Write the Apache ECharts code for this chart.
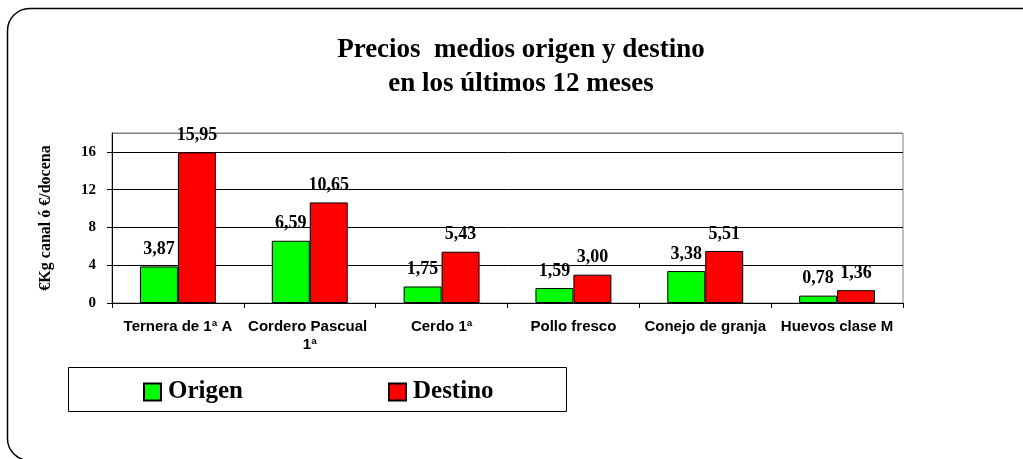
<!DOCTYPE html>
<html>
<head>
<meta charset="utf-8">
<script src="https://cdn.jsdelivr.net/npm/echarts@6/dist/echarts.min.js"></script>
<style>
  html, body { margin: 0; padding: 0; background: #fff; }
  #chart { width: 1023px; height: 459px; }
</style>
</head>
<body>
<div id="chart"></div>
<script>
// Product categories and average prices (€/kg carcass or €/dozen)
const categories = ['Ternera de 1ª A', 'Cordero Pascual 1ª', 'Cerdo 1ª', 'Pollo fresco', 'Conejo de granja', 'Huevos clase M'];
const origenValues = [3.87, 6.59, 1.75, 1.59, 3.38, 0.78];
const destinoValues = [15.95, 10.65, 5.43, 3.00, 5.51, 1.36];
const seriesNames = ['Origen', 'Destino'];
const titleLines = ['Precios  medios origen y destino', 'en los últimos 12 meses'];
const yAxisName = '€Kg canal ó €/docena';

const serif = '"Liberation Serif", "Times New Roman", serif';
const sans = '"Liberation Sans", Arial, sans-serif';

const fmt = v => v.toFixed(2).replace('.', ',');

const chart = echarts.init(document.getElementById('chart'), null, { renderer: 'canvas' });

const barLabel = {
  show: true,
  position: 'top',
  distance: 8,
  formatter: p => fmt(p.value),
  color: '#000',
  fontFamily: serif,
  fontWeight: 'bold',
  fontSize: 18
};

chart.setOption({
  animation: false,
  backgroundColor: '#fff',
  title: {
    text: titleLines.join('\n'),
    left: 516,
    top: 28,
    textAlign: 'center',
    textStyle: {
      fontFamily: serif,
      fontWeight: 'bold',
      fontSize: 27,
      lineHeight: 34,
      color: '#000'
    }
  },
  legend: {
    data: seriesNames,
    left: 143,
    top: 378,
    itemWidth: 17,
    itemHeight: 17,
    itemGap: 145,
    icon: 'rect',
    padding: 0,
    textStyle: {
      fontFamily: serif,
      fontWeight: 'bold',
      fontSize: 25,
      lineHeight: 28,
      color: '#000',
      padding: [0, 0, 0, 2]
    }
  },
  graphic: [
    {
      type: 'rect',
      silent: true,
      shape: { x: 7.5, y: 8.5, width: 1040, height: 452, r: 22 },
      style: { fill: 'none', stroke: '#000', lineWidth: 1.5 }
    },
    {
      type: 'rect',
      silent: true,
      shape: { x: 68.5, y: 367.5, width: 498, height: 44 },
      style: { fill: 'none', stroke: '#000', lineWidth: 1 }
    }
  ],
  grid: {
    left: 112,
    right: 120,
    top: 133,
    bottom: 156,
    show: true,
    borderColor: '#808080',
    borderWidth: 1,
    backgroundColor: 'transparent'
  },
  xAxis: {
    type: 'category',
    data: categories,
    axisLine: { lineStyle: { color: '#000', width: 1 } },
    axisTick: { show: true, length: 5, lineStyle: { color: '#000' } },
    axisLabel: {
      color: '#000',
      fontFamily: sans,
      fontWeight: 'bold',
      fontSize: 15,
      lineHeight: 18,
      margin: 15,
      width: 128,
      overflow: 'break',
      interval: 0
    }
  },
  yAxis: {
    type: 'value',
    min: 0,
    max: 18,
    interval: 4,
    name: yAxisName,
    nameLocation: 'middle',
    nameGap: 58,
    nameTextStyle: {
      color: '#000',
      fontFamily: serif,
      fontWeight: 'bold',
      fontSize: 16
    },
    axisLine: { show: true, lineStyle: { color: '#000', width: 1 } },
    axisTick: { show: true, length: 5, lineStyle: { color: '#000' } },
    axisLabel: {
      showMaxLabel: false,
      color: '#000',
      fontFamily: serif,
      fontWeight: 'bold',
      fontSize: 15,
      margin: 16
    },
    splitLine: {
      show: true,
      lineStyle: { color: ['#000', '#000', '#000', '#000', '#000', '#808080'], width: 1 }
    }
  },
  series: [
    {
      name: seriesNames[0],
      type: 'bar',
      data: origenValues,
      barWidth: '28.8%',
      barGap: '0%',
      itemStyle: { color: '#00ff00', borderColor: '#000', borderWidth: 1 },
      label: barLabel
    },
    {
      name: seriesNames[1],
      type: 'bar',
      data: destinoValues,
      barWidth: '28.8%',
      barGap: '0%',
      itemStyle: { color: '#ff0000', borderColor: '#000', borderWidth: 1 },
      label: barLabel
    }
  ]
});
</script>
</body>
</html>
